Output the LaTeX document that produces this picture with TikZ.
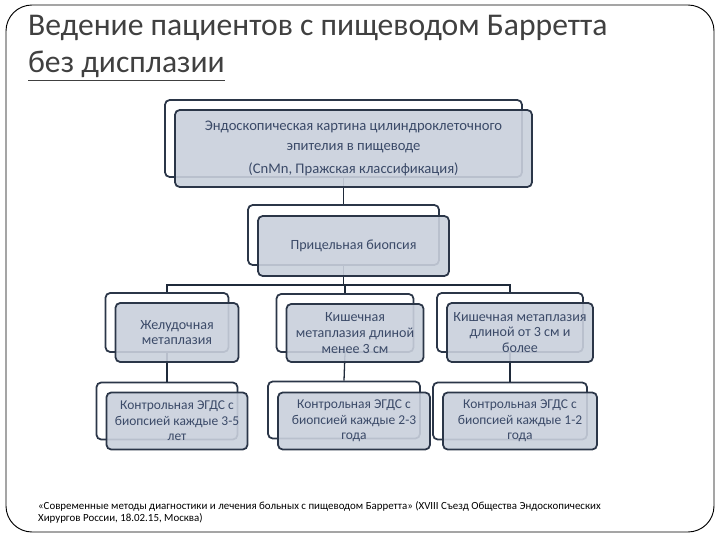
\documentclass[tikz,border=0pt]{standalone}
\usepackage{fontspec}
\setmainfont{Carlito}
\usepackage{tikz}
\usetikzlibrary{positioning}

\definecolor{boxline}{HTML}{2B3648}
\definecolor{boxfill}{HTML}{C9D0DC}
\definecolor{boxtext}{HTML}{3B4A68}
\definecolor{titlegray}{HTML}{404040}
\definecolor{wire}{HTML}{1F2A3A}

\tikzset{
	box size/.style 2 args={minimum width=#1*0.03cm, minimum height=#2*0.03cm},
	backbox/.style={draw=boxline, line width=1.5pt, rounded corners=4pt, fill=white, inner sep=0pt},
	frontbox/.style={draw=boxline, line width=1.5pt, rounded corners=4pt, fill=boxfill,
		fill opacity=0.9, text opacity=1, text=boxtext, align=center, inner sep=0pt,
		font=\fontsize{12}{13.5}\selectfont},
	lowbox/.style={frontbox, font=\fontsize{11.5}{13.2}\selectfont},
}

\begin{document}
\begin{tikzpicture}[x=0.03cm, y=-0.03cm]
	\useasboundingbox (0,0) rectangle (720,540);
	\draw [line width=0.8pt, rounded corners=0.78cm] (6,5) rectangle (714,532);
	\node (title) [anchor=base west, align=left, text=titlegray, font=\fontsize{27}{32}\selectfont]
		at (24,73) {Ведение пациентов с пищеводом Барретта\\\underline{без дисплазии}};

	% back boxes
	\node (n1) [backbox, box size={357}{77}] at (343.5,138.5) {};
	\node (n2) [backbox, box size={191}{60}] at (343.5,235) {};
	\node (a1) [backbox, box size={123}{59}] at (167,322.5) {};
	\node (b1) [backbox, box size={137}{58}] at (345,323) {};
	\node (c1) [backbox, box size={146}{59}] at (510,322.5) {};
	\node (a2) [backbox, box size={141}{57}] at (167,411) {};
	\node (b2) [backbox, box size={152}{57}] at (344,410) {};
	\node (c2) [backbox, box size={154}{57}] at (510,411) {};

	% connectors
	\coordinate (bus) at (343.5,285);
	\draw [line width=1.1pt, wire] (n1.south) -- (n2.north);
	\draw [line width=1.1pt, wire] (n2.south) -- (bus);
	\draw [line width=1.1pt, wire] (bus) -| (a1.north);
	\draw [line width=1.1pt, wire] (bus) -| (b1.north);
	\draw [line width=1.1pt, wire] (bus) -| (c1.north);
	\draw [line width=1.1pt, wire] (a1.south) -- (a2.north);
	\draw [line width=1.1pt, wire] (b1.south) -- (b2.north);
	\draw [line width=1.1pt, wire] (c1.south) -- (c2.north);

	% front boxes
	\node (f1) [frontbox, box size={357}{77}, font=\fontsize{12.5}{17}\selectfont] at ([shift={(10,10)}]n1)
		{Эндоскопическая картина цилиндроклеточного\\эпителия в пищеводе\\[3pt](CnMn, Пражская классификация)};
	\node (f2) [frontbox, box size={191}{60}] at ([shift={(10,11)}]n2) {Прицельная биопсия};
	\node (fa1) [frontbox, box size={123}{59}] at ([shift={(10,10)}]a1) {Желудочная\\метаплазия};
	\node (fb1) [frontbox, box size={137}{58}] at ([shift={(10,10)}]b1) {Кишечная\\метаплазия длиной\\менее 3 см};
	\node (fc1) [frontbox, box size={146}{59}] at ([shift={(10,10)}]c1) {Кишечная метаплазия\\длиной от 3 см и\\более};
	\node (fa2) [lowbox, box size={141}{57}] at ([shift={(10,10)}]a2) {Контрольная ЭГДС с\\биопсией каждые 3-5\\лет};
	\node (fb2) [lowbox, box size={152}{57}] at ([shift={(10,11)}]b2) {Контрольная ЭГДС с\\биопсией каждые 2-3\\года};
	\node (fc2) [lowbox, box size={154}{57}] at ([shift={(10,10)}]c2) {Контрольная ЭГДС с\\биопсией каждые 1-2\\года};

	\node (note) [anchor=north west, align=left, font=\fontsize{9.3}{11}\selectfont]
		at (34,497) {«Современные методы диагностики и лечения больных с пищеводом Барретта» (XVIII Съезд Общества Эндоскопических\\Хирургов России, 18.02.15, Москва)};
\end{tikzpicture}
\end{document}
